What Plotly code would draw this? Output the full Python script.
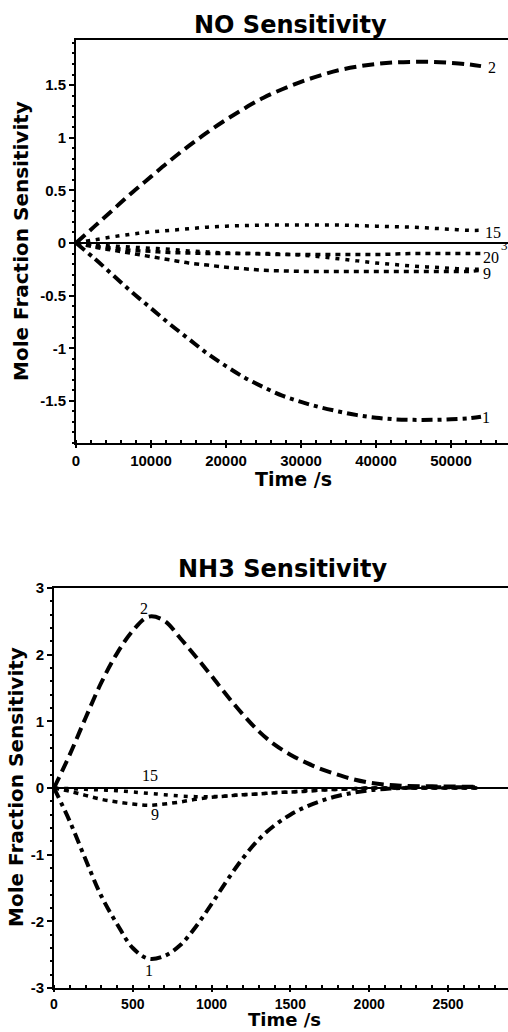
import plotly.graph_objects as go

# ---------------- NO sensitivity (top) ----------------
t_no = [0, 2500, 5000, 7500, 10000, 12500, 15000, 17500, 20000, 22500, 25000,
        27500, 30000, 32500, 35000, 37500, 40000, 42500, 45000, 47500, 50000,
        52500, 54000]
no_s2 = [0, 0.16, 0.32, 0.48, 0.63, 0.78, 0.92, 1.05, 1.17, 1.28, 1.38, 1.46,
         1.53, 1.59, 1.64, 1.675, 1.70, 1.715, 1.72, 1.72, 1.71, 1.695, 1.68]
no_s1 = [0, -0.15, -0.31, -0.47, -0.62, -0.77, -0.91, -1.05, -1.17, -1.28,
         -1.37, -1.45, -1.51, -1.56, -1.60, -1.635, -1.66, -1.675, -1.68, -1.68,
         -1.675, -1.665, -1.65]
no_s15 = [0, 0.03, 0.06, 0.085, 0.105, 0.12, 0.135, 0.15, 0.16, 0.165, 0.17,
          0.17, 0.17, 0.17, 0.17, 0.165, 0.16, 0.155, 0.15, 0.14, 0.13, 0.12, 0.12]
no_s3 = [0, -0.02, -0.03, -0.04, -0.05, -0.06, -0.075, -0.085, -0.095, -0.10,
         -0.10, -0.105, -0.115, -0.13, -0.15, -0.17, -0.19, -0.205, -0.22, -0.23,
         -0.24, -0.25, -0.25]
no_s20 = [0, -0.03, -0.05, -0.07, -0.08, -0.09, -0.095, -0.10, -0.10, -0.10,
          -0.105, -0.11, -0.11, -0.11, -0.11, -0.11, -0.11, -0.105, -0.10, -0.10,
          -0.10, -0.10, -0.10]
no_s9 = [0, -0.04, -0.07, -0.10, -0.13, -0.16, -0.19, -0.21, -0.23, -0.245,
         -0.26, -0.265, -0.27, -0.27, -0.27, -0.27, -0.27, -0.27, -0.27, -0.27,
         -0.27, -0.27, -0.26]
no_labels = ["2", "15", "3", "20", "9", "1"]
no_label_x = [55470, 55600, 57100, 55330, 54800, 54700]
no_label_y = [1.67, 0.10, -0.02, -0.14, -0.29, -1.66]

# ---------------- NH3 sensitivity (bottom) ----------------
t_nh3 = [0, 100, 200, 300, 400, 500, 600, 700, 800, 900, 1000, 1100, 1200,
         1300, 1400, 1500, 1600, 1700, 1800, 1900, 2000, 2100, 2200, 2400,
         2600, 2700]
nh3_s2 = [0, 0.50, 1.05, 1.58, 2.02, 2.36, 2.57, 2.51, 2.25, 1.97, 1.68, 1.38,
          1.10, 0.85, 0.65, 0.50, 0.38, 0.28, 0.20, 0.13, 0.08, 0.05, 0.035,
          0.025, 0.02, 0.02]
nh3_s1 = [0, -0.50, -1.07, -1.62, -2.04, -2.40, -2.56, -2.52, -2.36, -2.08,
          -1.74, -1.38, -1.05, -0.77, -0.56, -0.40, -0.28, -0.19, -0.12, -0.07,
          -0.035, -0.015, 0.0, 0.01, 0.01, 0.01]
nh3_s15 = [0, -0.01, -0.02, -0.03, -0.04, -0.06, -0.08, -0.10, -0.12, -0.13,
           -0.13, -0.12, -0.10, -0.09, -0.07, -0.06, -0.04, -0.03, -0.02, -0.01,
           0.0, 0.0, 0.0, 0.0, 0.0, 0.0]
nh3_s9 = [0, -0.05, -0.11, -0.17, -0.21, -0.24, -0.26, -0.24, -0.21, -0.17,
          -0.14, -0.12, -0.10, -0.09, -0.07, -0.06, -0.05, -0.03, -0.02, -0.01,
          0.0, 0.0, 0.0, 0.0, 0.0, 0.0]
nh3_labels = ["2", "15", "9", "1"]
nh3_label_x = [571, 609, 641, 603]
nh3_label_y = [2.70, 0.19, -0.39, -2.73]

no_xticks = [0, 10000, 20000, 30000, 40000, 50000]
no_yticks = [-1.5, -1, -0.5, 0, 0.5, 1, 1.5]
nh3_xticks = [0, 500, 1000, 1500, 2000, 2500]
nh3_yticks = [-3, -2, -1, 0, 1, 2, 3]

W, H = 508, 1032
BLACK = "black"

LONG_DASH = "12px,6px"
DASH_DOT = "11px,5px,4px,5px"
DOT = "4px,6px"
SHORT_DASH = "5px,5px"

fig = go.Figure()


def add_line(x, y, dash, width, xa, ya):
    fig.add_trace(go.Scatter(x=x, y=y, mode="lines", xaxis=xa, yaxis=ya,
                             line=dict(color=BLACK, width=width, dash=dash,
                                       shape="spline", smoothing=1.0),
                             showlegend=False, hoverinfo="skip"))


add_line(t_no, no_s2, LONG_DASH, 4, "x", "y")
add_line(t_no, no_s1, DASH_DOT, 4, "x", "y")
add_line(t_no, no_s15, DOT, 3.5, "x", "y")
add_line(t_no, no_s3, DOT, 3.5, "x", "y")
add_line(t_no, no_s20, SHORT_DASH, 3.5, "x", "y")
add_line(t_no, no_s9, SHORT_DASH, 3.5, "x", "y")

add_line(t_nh3, nh3_s2, LONG_DASH, 4, "x2", "y2")
add_line(t_nh3, nh3_s1, DASH_DOT, 4, "x2", "y2")
add_line(t_nh3, nh3_s15, DOT, 3.5, "x2", "y2")
add_line(t_nh3, nh3_s9, SHORT_DASH, 3.5, "x2", "y2")


def fmt(v):
    if float(v).is_integer():
        return "<b>%d</b>" % int(v)
    return "<b>%g</b>" % v


tickfont = dict(family="Liberation Sans", size=15, color=BLACK)
tickfont_low = dict(family="Liberation Sans", size=14, color=BLACK)

common_x = dict(showline=True, linecolor=BLACK, linewidth=2, mirror=True,
                ticks="outside", tickwidth=2, tickcolor=BLACK,
                showgrid=False, zeroline=False, automargin=False)
common_y = dict(showline=True, linecolor=BLACK, linewidth=2, mirror=True,
                ticks="outside", ticklen=5, tickwidth=2, tickcolor=BLACK,
                showgrid=False, zeroline=True, zerolinecolor=BLACK,
                zerolinewidth=1.5, tickfont=tickfont, automargin=False)

fig.update_layout(
    width=W, height=H,
    margin=dict(l=0, r=0, t=0, b=0, pad=0, autoexpand=False),
    paper_bgcolor="white", plot_bgcolor="white",
    xaxis=dict(domain=[76 / W, 1], range=[0, 57600], tickvals=no_xticks,
               ticktext=[fmt(v) for v in no_xticks], ticklen=3, tickfont=tickfont,
               minor=dict(dtick=2000, ticks="inside", ticklen=3, tickcolor=BLACK, tickwidth=1.5),
               anchor="y", **common_x),
    yaxis=dict(domain=[1 - 443 / H, 1 - 40 / H], range=[-1.90, 1.928],
               tickvals=no_yticks, ticktext=[fmt(v) for v in no_yticks],
               minor=dict(dtick=0.1, ticks="outside", ticklen=2, tickcolor=BLACK, tickwidth=1.5),
               anchor="x", **common_y),
    xaxis2=dict(domain=[54 / W, 1], range=[0, 2881], tickvals=nh3_xticks,
                ticktext=[fmt(v) for v in nh3_xticks], ticklen=2, tickfont=tickfont_low,
                minor=dict(dtick=100, ticks="inside", ticklen=3, tickcolor=BLACK, tickwidth=1.5),
                anchor="y2", **common_x),
    yaxis2=dict(domain=[1 - 988 / H, 1 - 588 / H], range=[-3, 3],
                tickvals=nh3_yticks, ticktext=[fmt(v) for v in nh3_yticks],
                minor=dict(dtick=0.2, ticks="outside", ticklen=2, tickcolor=BLACK, tickwidth=1.5),
                anchor="x2", **common_y),
)

title_font = dict(family="DejaVu Sans", size=24, color=BLACK)
axis_font = dict(family="DejaVu Sans", size=19, color=BLACK)
axis_font_low = dict(family="DejaVu Sans", size=18, color=BLACK)
yaxis_font = dict(family="DejaVu Sans", size=20, color=BLACK)
label_font = dict(family="Liberation Serif", size=16, color=BLACK)

ann = []


def paper_text(txt, x, y, font, angle=0):
    ann.append(dict(text="<b>%s</b>" % txt, x=x / W, y=1 - y / H, xref="paper",
                    yref="paper", showarrow=False, font=font, textangle=angle,
                    xanchor="center", yanchor="middle", borderpad=0))


paper_text("NO Sensitivity", 290, 25, title_font)
paper_text("NH3 Sensitivity", 282, 569, title_font)
paper_text("Time /s", 293, 479, axis_font)
paper_text("Time /s", 284, 1019, axis_font_low)
paper_text("Mole Fraction Sensitivity", 21, 241, yaxis_font, -90)
paper_text("Mole Fraction Sensitivity", 16, 787, yaxis_font, -90)

for txt, lx, ly in zip(no_labels, no_label_x, no_label_y):
    f = dict(label_font)
    if txt == "3":
        f["size"] = 13
    ann.append(dict(text=txt, x=lx, y=ly, xref="x", yref="y", showarrow=False,
                    font=f, xanchor="center", yanchor="middle"))
for txt, lx, ly in zip(nh3_labels, nh3_label_x, nh3_label_y):
    ann.append(dict(text=txt, x=lx, y=ly, xref="x2", yref="y2", showarrow=False,
                    font=label_font, xanchor="center", yanchor="middle"))

fig.update_layout(annotations=ann)

fig.write_html("out.html",
               config={"displayModeBar": False},
               post_script="document.body.style.margin='0px';"
                           "document.body.style.padding='0px';")
